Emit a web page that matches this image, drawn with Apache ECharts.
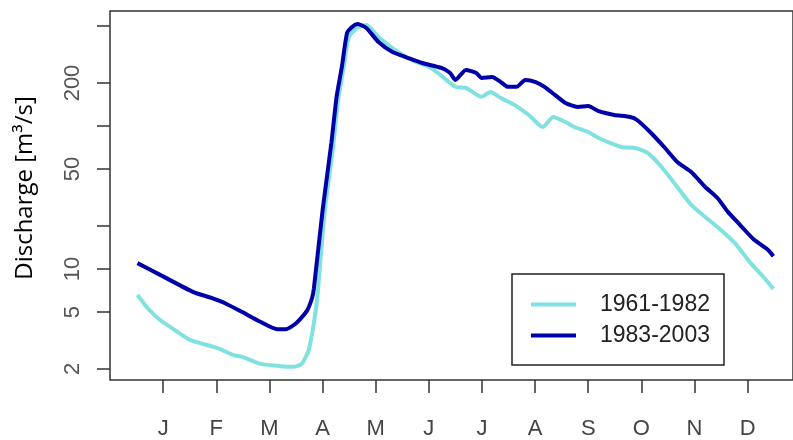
<!DOCTYPE html>
<html>
<head>
<meta charset="utf-8">
<script src="https://cdn.jsdelivr.net/npm/echarts@6/dist/echarts.min.js"></script>
<style>
html,body{margin:0;padding:0;background:#fff;}
#chart{width:793px;height:440px;}
</style>
</head>
<body>
<div id="chart"></div>
<script>
// Month labels (ticks at mid-month, positions 1..12)
const monthLabels = ['J','F','M','A','M','J','J','A','S','O','N','D'];
const monthTicks = [1,2,3,4,5,6,7,8,9,10,11,12];
// Y tick values (log axis)
const yTicks = [2,5,10,20,50,100,200,500];
const yLabels = [2,5,10,50,200];
const seriesNames = ['1961-1982','1983-2003'];

// 1961-1982 : day of year and discharge (m3/s)
const days6182 = [1,7,14,23,31,47,56,61,71,82,90,95,99,102,104,108,113,116,119,122,127,132,139,147,158,168,173,183,189,198,203,209,217,225,233,239,246,251,259,265,278,286,293,301,310,318,326,333,343,352,359,365];
const q6182 = [6.6,5.3,4.4,3.7,3.2,2.8,2.5,2.43,2.18,2.1,2.07,2.17,2.7,4.2,6.4,24,72,155,255,420,490,509,419,351,290,259,235,188,185,160,173,157,140,119.5,98.5,115.7,106.7,98.5,90.9,82.5,71.4,70.2,64.8,51.7,37.5,28.1,23.1,19.7,15.2,11.0,8.9,7.25];

// 1983-2003
const days8303 = [1,14,33,43,52,61,71,81,86,92,98,101,102,107,112,115,118,121,124,127,132,139,147,156,164,175,180,183,189,195,198,204,209,213,218,223,229,234,240,246,253,259,265,274,283,287,295,303,310,318,326,333,339,346,354,362,365];
const q8303 = [11.0,9.1,6.9,6.3,5.7,5.0,4.3,3.8,3.8,4.2,5.1,6.3,7.3,25.9,76,160,259,447,495,517,485,387,329,299,276,255,235,210,247,235,217,220,203,188,188,210,203,188,165,145,136,138,127,119.5,115.7,110.2,89.4,70.2,56.1,47.7,37.5,31.4,25.1,20.3,16.0,13.6,12.3];

function toMonthPos(d){ return 0.5 + (d - 0.5) * 12 / 365; }
function pairs(days, vals){ return days.map((d,i)=>[toMonthPos(d), vals[i]]); }

const chart = echarts.init(document.getElementById('chart'), null, {renderer:'canvas'});
const fontTick = 'Liberation Sans, Arial, sans-serif';
chart.setOption({
  animation:false,
  backgroundColor:'#fff',
  grid:{left:110, top:11, bottom:60, right:-4, show:true, borderColor:'#333', borderWidth:1.5, backgroundColor:'transparent'},
  legend:{
    left:512, top:274, orient:'vertical',
    backgroundColor:'#fff', borderColor:'#222', borderWidth:1.5, borderRadius:0,
    padding:[19,14,18,19],
    icon:'rect', itemWidth:45, itemHeight:4, itemGap:8,
    textStyle:{fontSize:23, color:'#222', fontFamily:fontTick, padding:[0,0,0,19], lineHeight:22},
    data:seriesNames
  },
  xAxis:{
    type:'value', min:0, max:687/53.45,
    axisLine:{show:false},
    splitLine:{show:false},
    axisTick:{show:true, length:13, inside:false, customValues:monthTicks, lineStyle:{color:'#333', width:1.5}},
    axisLabel:{show:true, margin:38, customValues:monthTicks, fontSize:22, color:'#444', fontFamily:fontTick,
      formatter:function(v){ return monthLabels[Math.round(v)-1] || ''; }}
  },
  yAxis:{
    type:'log', logBase:10, min:1.675, max:637.6,
    name:'Discharge [m³/s]', nameLocation:'middle', nameGap:73,
    nameTextStyle:{fontSize:24, color:'#000', fontFamily:'Open Sans, sans-serif', padding:[0,0,0,15]},
    axisLine:{show:false},
    splitLine:{show:false},
    axisTick:{show:true, length:13, customValues:yTicks, lineStyle:{color:'#333', width:1.5}},
    axisLabel:{show:true, rotate:90, margin:26, customValues:yLabels, fontSize:22, color:'#555', fontFamily:fontTick,
      formatter:function(v){ return String(Math.round(v)); }}
  },
  series:[
    {name:seriesNames[0], type:'line', data:pairs(days6182,q6182), symbol:'none', smooth:0.2,
     lineStyle:{color:'#80E2E0', width:4}, itemStyle:{color:'#80E2E0'}},
    {name:seriesNames[1], type:'line', data:pairs(days8303,q8303), symbol:'none', smooth:0.2,
     lineStyle:{color:'#0000A8', width:4}, itemStyle:{color:'#0000A8'}}
  ]
});
</script>
</body>
</html>
